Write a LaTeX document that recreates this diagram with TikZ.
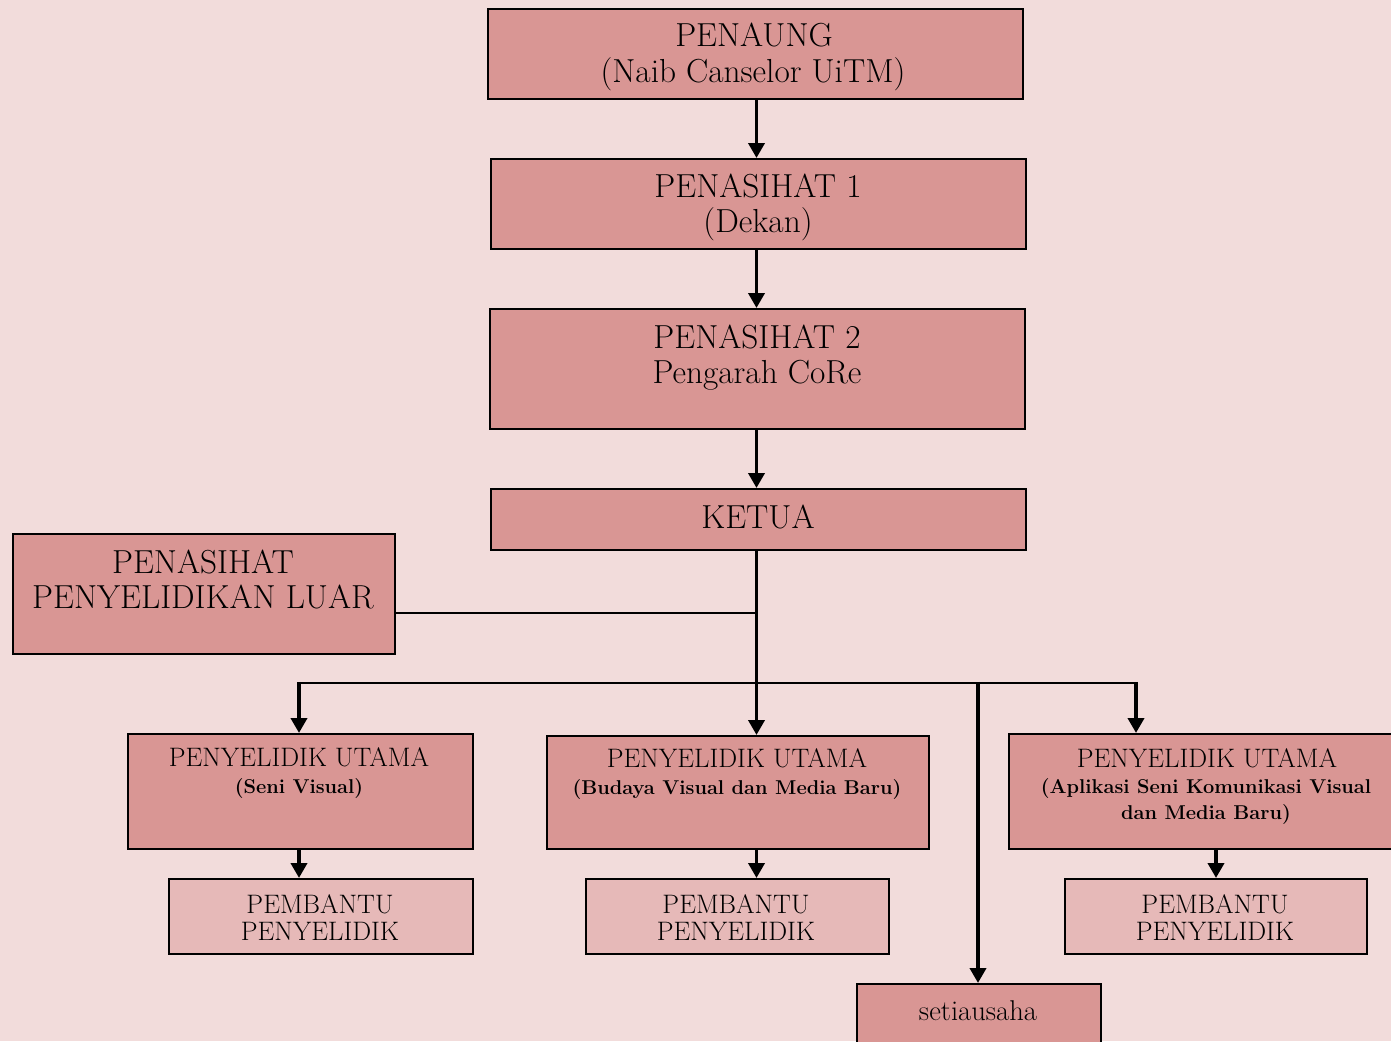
\documentclass[tikz,border=0pt]{standalone}
\usetikzlibrary{arrows.meta}
\definecolor{bgc}{HTML}{F2DCDB}
\definecolor{darkbox}{HTML}{D99694}
\definecolor{lightbox}{HTML}{E6B9B8}
\newcommand\fbig{\fontsize{33.3}{38}\selectfont}
\newcommand\fmid{\fontsize{26.7}{30}\selectfont}
\newcommand\fbld{\fontsize{20}{24}\selectfont\bfseries}
\newcommand\fsec{\fontsize{28.6}{32}\selectfont}
\begin{document}
\begin{tikzpicture}[x=1pt,y=-1pt,
  box/.style={draw=black, line width=2pt, fill=darkbox, inner sep=0pt, anchor=north west},
  lbox/.style={box, fill=lightbox},
  txt/.style={inner sep=0pt, anchor=base},
  arr/.style={line width=3.8pt, -{Triangle[length=15pt,width=16pt]}},
  conn/.style={line width=2.5pt}]
\fill[bgc] (0,0) rectangle (1391,1041);
\useasboundingbox (0,0) rectangle (1391,1041);
\clip (0,0) rectangle (1391,1041);
% boxes
\node[box, minimum width=535pt, minimum height=90pt] (penaung) at (487,8) {};
\node[box, minimum width=535pt, minimum height=90pt] (pen1) at (490,158) {};
\node[box, minimum width=535pt, minimum height=120pt] (pen2) at (489,308) {};
\node[box, minimum width=535pt, minimum height=61pt] (ketua) at (490,488) {};
\node[box, minimum width=382pt, minimum height=120pt] (luar) at (12,533) {};
\node[box, minimum width=345pt, minimum height=115pt] (pu1) at (127,733) {};
\node[box, minimum width=382pt, minimum height=113pt] (pu2) at (546,735) {};
\node[box, minimum width=420pt, minimum height=115pt] (pu3) at (1008,733) {};
\node[lbox, minimum width=304pt, minimum height=75pt] (pp1) at (168,878) {};
\node[lbox, minimum width=303pt, minimum height=75pt] (pp2) at (585,878) {};
\node[lbox, minimum width=302pt, minimum height=75pt] (pp3) at (1064,878) {};
\node[box, minimum width=244pt, minimum height=80pt] (setia) at (856,983) {};
% texts
\node[txt, font=\fbig] (penaungA) at (754,47) {PENAUNG};
\node[txt, font=\fbig] (penaungB) at (753,82) {(Naib Canselor UiTM)};
\node[txt, font=\fbig] (pen1A) at (758,197) {PENASIHAT 1};
\node[txt, font=\fbig] (pen1B) at (758,232) {(Dekan)};
\node[txt, font=\fbig] (pen2A) at (757,348) {PENASIHAT 2};
\node[txt, font=\fbig] (pen2B) at (757,383) {Pengarah CoRe};
\node[txt, font=\fbig] (ketuaA) at (758,528) {KETUA};
\node[txt, font=\fbig] (luarA) at (203,573) {PENASIHAT};
\node[txt, font=\fbig] (luarB) at (203,608) {PENYELIDIKAN LUAR};
\node[txt, font=\fmid] (pu1A) at (299,766) {PENYELIDIK UTAMA};
\node[txt, font=\fbld] (pu1B) at (299,793) {(Seni Visual)};
\node[txt, font=\fmid] (pu2A) at (737,767) {PENYELIDIK UTAMA};
\node[txt, font=\fbld] (pu2B) at (737,794) {(Budaya Visual dan Media Baru)};
\node[txt, font=\fmid] (pu3A) at (1207,767) {PENYELIDIK UTAMA};
\node[txt, font=\fbld] (pu3B) at (1206,793) {(Aplikasi Seni Komunikasi Visual};
\node[txt, font=\fbld] (pu3C) at (1206,819) {dan Media Baru)};
\node[txt, font=\fmid] (pp1A) at (320,913) {PEMBANTU};
\node[txt, font=\fmid] (pp1B) at (320,940) {PENYELIDIK};
\node[txt, font=\fmid] (pp2A) at (736,913) {PEMBANTU};
\node[txt, font=\fmid] (pp2B) at (736,940) {PENYELIDIK};
\node[txt, font=\fmid] (pp3A) at (1215,913) {PEMBANTU};
\node[txt, font=\fmid] (pp3B) at (1215,940) {PENYELIDIK};
\node[txt, font=\fsec] (setiaA) at (978,1020) {setiausaha};
% connectors
\coordinate (spine) at (756.5,683);
\coordinate (luarj) at (756.5,613);
\coordinate (busL) at (299,683);
\coordinate (busR) at (1136,683);
\coordinate (sec) at (978,683);
\draw[arr] (penaung.south -| spine) -- (pen1.north -| spine);
\draw[arr] (pen1.south -| spine) -- (pen2.north -| spine);
\draw[arr] (pen2.south -| spine) -- (ketua.north -| spine);
\draw[arr] (ketua.south -| spine) -- (pu2.north -| spine);
\draw[conn] (luarj -| luar.east) -- (luarj);
\draw[conn] ([xshift=-1.9pt]busL) -- ([xshift=1.9pt]busR);
\draw[arr] ([yshift=1.2pt]busL) -- (busL |- pu1.north);
\draw[arr] ([yshift=1.2pt]busR) -- (busR |- pu3.north);
\draw[arr] ([yshift=1.2pt]sec) -- (setia.north -| sec);
\draw[arr] (pu1.south -| busL) -- (pp1.north -| busL);
\draw[arr] (pu2.south -| spine) -- (pp2.north -| spine);
\draw[arr] (pp3.north |- pu3.south) -- (pp3.north);
\end{tikzpicture}
\end{document}
